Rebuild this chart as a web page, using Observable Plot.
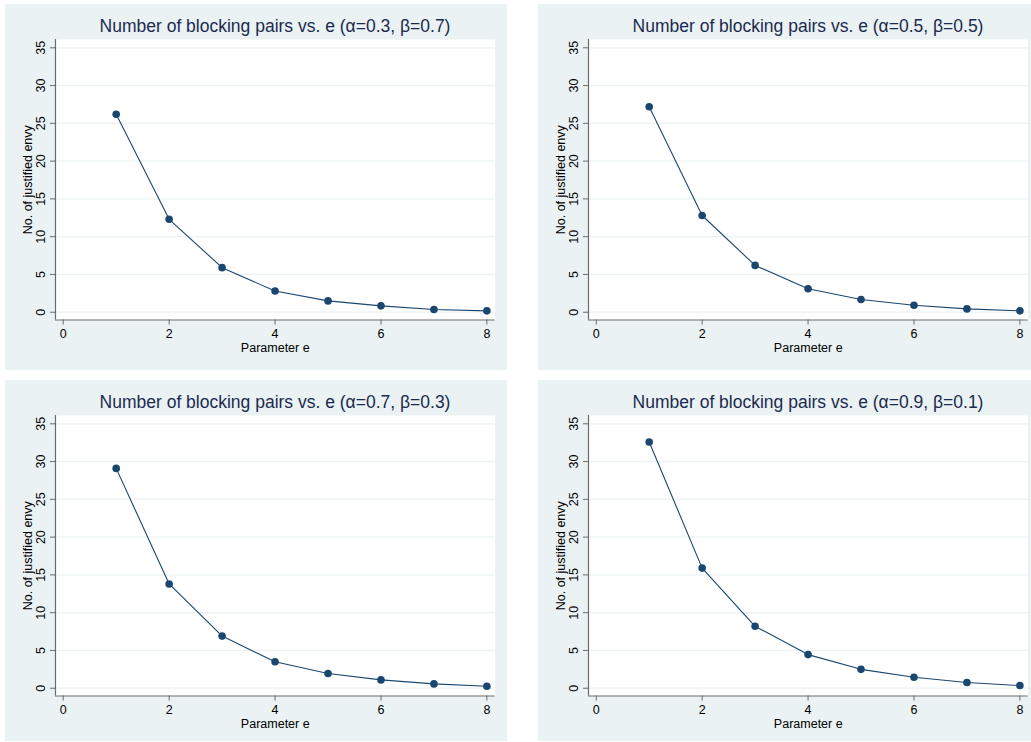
<!DOCTYPE html>
<html>
<head>
<meta charset="utf-8">
<script src="https://cdn.jsdelivr.net/npm/d3@7"></script>
<script src="https://cdn.jsdelivr.net/npm/@observablehq/plot@0.6"></script>
<style>
  html, body { margin: 0; padding: 0; background: #ffffff; }
  #root { position: relative; width: 1031px; height: 742px; overflow: hidden; font-family: "Liberation Sans", Arial, Helvetica, sans-serif; }
  .panel { position: absolute; background: #eaf2f3; overflow: hidden; }
  .title { margin-left: 40px; width: 460px; height: 21px; padding-top: 12px; line-height: 20px; font-size: 17.5px; color: #1c2a4f; text-align: center; white-space: nowrap; }
  .panel svg { display: block; }
</style>
</head>
<body>
<div id="root"></div>
<script>
// ---- data ----
const eValues = [1, 2, 3, 4, 5, 6, 7, 8];
const envyA03 = [26.2, 12.3, 5.9, 2.8, 1.5, 0.84, 0.36, 0.18];
const envyA05 = [27.2, 12.8, 6.2, 3.1, 1.68, 0.93, 0.44, 0.18];
const envyA07 = [29.1, 13.8, 6.9, 3.5, 1.94, 1.1, 0.57, 0.26];
const envyA09 = [32.6, 15.9, 8.2, 4.45, 2.5, 1.45, 0.75, 0.35];
const titles = [
  "Number of blocking pairs vs. e (\u03B1=0.3, \u03B2=0.7)",
  "Number of blocking pairs vs. e (\u03B1=0.5, \u03B2=0.5)",
  "Number of blocking pairs vs. e (\u03B1=0.7, \u03B2=0.3)",
  "Number of blocking pairs vs. e (\u03B1=0.9, \u03B2=0.1)"
];
const xTicks = [0, 2, 4, 6, 8];
const yTicks = [0, 5, 10, 15, 20, 25, 30, 35];
const xLabel = "Parameter e";
const yLabel = "No. of justified envy";

// ---- layout ----
const series = [envyA03, envyA05, envyA07, envyA09];
const panels = [
  {left: 5, top: 4, width: 502, height: 366},
  {left: 538, top: 4, width: 493, height: 366},
  {left: 5, top: 380, width: 502, height: 361},
  {left: 538, top: 380, width: 493, height: 361}
];
const xDomain = [-0.146, 8.153];
const yDomain = [-1.03, 36.1];
const navy = "#1a476f";
const axisGray = "#6b6b6b";

const root = document.getElementById("root");
panels.forEach((p, i) => {
  const div = document.createElement("div");
  div.className = "panel";
  div.style.left = p.left + "px";
  div.style.top = p.top + "px";
  div.style.width = p.width + "px";
  div.style.height = p.height + "px";
  const t = document.createElement("div");
  t.className = "title";
  t.textContent = titles[i];
  div.appendChild(t);

  const data = eValues.map((e, k) => ({e, v: series[i][k]}));
  const svgH = p.height - 33;
  const marginBottom = svgH - 280.5 - 2;
  const chart = Plot.plot({
    width: p.width,
    height: svgH,
    marginLeft: 50,
    marginRight: p.width - 489.5,
    marginTop: 2,
    marginBottom: marginBottom,
    x: {domain: xDomain, axis: null},
    y: {domain: yDomain, axis: null},
    style: {background: "transparent", fontFamily: "'Liberation Sans', Arial, Helvetica, sans-serif", color: "#000"},
    marks: [
      Plot.frame({fill: "white", stroke: null}),
      Plot.ruleY(yTicks, {y: d => d, stroke: "#eaf2f3", strokeWidth: 1.2}),
      Plot.ruleX([xDomain[0]], {stroke: axisGray, strokeWidth: 1.2}),
      Plot.ruleY([yDomain[0]], {stroke: axisGray, strokeWidth: 1.2}),
      Plot.axisX({ticks: xTicks, tickSize: 5, tickFormat: () => "", stroke: axisGray, label: null}),
      Plot.axisY({ticks: yTicks, tickSize: 5, tickFormat: () => "", stroke: axisGray, label: null}),
      Plot.text(xTicks, {x: d => d, frameAnchor: "bottom", text: d => String(d), dy: 13.5, lineAnchor: "middle", textAnchor: "middle", fontSize: 12.5, fill: "#000"}),
      Plot.text(yTicks, {x: xDomain[0], y: d => d, text: d => String(d), rotate: -90, dx: -15, lineAnchor: "middle", textAnchor: "middle", fontSize: 12.5, fill: "#000"}),
      Plot.text([yLabel], {frameAnchor: "left", text: d => d, rotate: -90, dx: -28, lineAnchor: "middle", textAnchor: "middle", fontSize: 12.5, fill: "#000"}),
      Plot.text([xLabel], {frameAnchor: "bottom", text: d => d, dy: 27.5, lineAnchor: "middle", textAnchor: "middle", fontSize: 12.5, fill: "#000"}),
      Plot.line(data, {x: "e", y: "v", stroke: navy, strokeWidth: 1.1}),
      Plot.dot(data, {x: "e", y: "v", r: 3.8, fill: navy, stroke: null})
    ]
  });
  div.appendChild(chart);
  root.appendChild(div);
});
</script>
</body>
</html>
